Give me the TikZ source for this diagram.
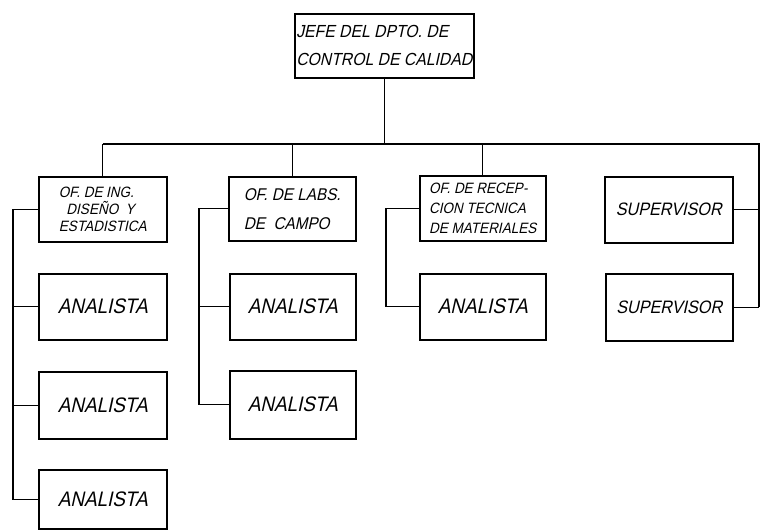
\documentclass[tikz,border=0pt]{standalone}
\usepackage{fontspec}
\newfontfamily\hand[FakeSlant=0.22,FakeStretch=0.9]{Liberation Sans}
\begin{document}
\begin{tikzpicture}[x=1pt,y=-1pt,
  box/.style={draw, line width=1.5pt, inner sep=0pt, anchor=north west},
  wire/.style={line width=1.4pt},
  lbl/.style={font=\hand, text=black},
]
\useasboundingbox[fill=white] (0,0) rectangle (760,531);
% boxes
\node[box, minimum width=179pt, minimum height=64pt] (top) at (294,13) {};
\node[box, minimum width=128pt, minimum height=65pt] (b1) at (38,176) {};
\node[box, minimum width=127pt, minimum height=64pt] (b2) at (228,176) {};
\node[box, minimum width=126pt, minimum height=65pt] (b3) at (419,175) {};
\node[box, minimum width=128pt, minimum height=66pt] (s1) at (604,176) {};
\node[box, minimum width=127pt, minimum height=67pt] (s2) at (605,273) {};
\node[box, minimum width=128pt, minimum height=66pt] (a11) at (38,273) {};
\node[box, minimum width=128pt, minimum height=67pt] (a12) at (38,371) {};
\node[box, minimum width=128pt, minimum height=59pt] (a13) at (38,469) {};
\node[box, minimum width=126pt, minimum height=66pt] (a21) at (229,273) {};
\node[box, minimum width=126pt, minimum height=68pt] (a22) at (229,370) {};
\node[box, minimum width=126pt, minimum height=66pt] (a31) at (419,273) {};
% texts
\node[lbl, align=left, font=\hand\fontsize{17.5}{28}\selectfont] (ttop) at (top.center) {JEFE DEL DPTO. DE\\CONTROL DE CALIDAD};
\node[lbl, align=left, font=\hand\fontsize{15}{17}\selectfont] (tb1) at (b1.center) {OF. DE ING.\\\ \ DISEÑO \ Y\\ESTADISTICA};
\node[lbl, align=left, font=\hand\fontsize{17}{29}\selectfont] (tb2) at (b2.center) {OF. DE LABS.\\DE \ CAMPO};
\node[lbl, align=left, font=\hand\fontsize{15}{20}\selectfont] (tb3) at (b3.center) {OF. DE RECEP-\\CION TECNICA\\DE MATERIALES};
\node[lbl, font=\hand\fontsize{18}{20}\selectfont] (ts1) at (s1.center) {SUPERVISOR};
\node[lbl, font=\hand\fontsize{18}{20}\selectfont] (ts2) at (s2.center) {SUPERVISOR};
\foreach \n in {a11,a12,a13,a21,a22,a31}
  \node[lbl, font=\hand\fontsize{21}{24}\selectfont] (t\n) at (\n.center) {ANALISTA};
% coordinates for bus and spines
\coordinate (bus) at (0,144);
\coordinate (rt) at (759,0);
\coordinate (t1) at (13,0);
\coordinate (t2) at (199,0);
\coordinate (t3) at (386,0);
% main bus
\draw[wire] (top.south) -- (top.south |- bus);
\draw[wire] (b1.north |- bus) -- (rt |- bus) -- (rt |- s2.east);
\draw[wire] (b1.north) -- (b1.north |- bus);
\draw[wire] (b2.north) -- (b2.north |- bus);
\draw[wire] (b3.north) -- (b3.north |- bus);
\draw[wire] (s1.east) -- (s1.east -| rt);
\draw[wire] (s2.east) -- (s2.east -| rt);
% spine 1
\draw[wire] (b1.west) -- (b1.west -| t1) -- (a13.west -| t1) -- (a13.west);
\draw[wire] (a11.west) -- (a11.west -| t1);
\draw[wire] (a12.west) -- (a12.west -| t1);
% spine 2
\draw[wire] (b2.west) -- (b2.west -| t2) -- (a22.west -| t2) -- (a22.west);
\draw[wire] (a21.west) -- (a21.west -| t2);
% spine 3
\draw[wire] (b3.west) -- (b3.west -| t3) -- (a31.west -| t3) -- (a31.west);
\end{tikzpicture}
\end{document}
